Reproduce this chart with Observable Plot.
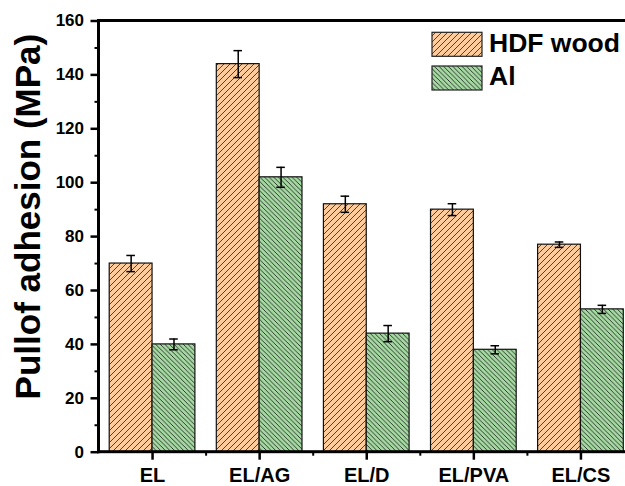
<!DOCTYPE html>
<html>
<head>
<meta charset="utf-8">
<script src="https://cdn.jsdelivr.net/npm/d3@7"></script>
<script src="https://cdn.jsdelivr.net/npm/@observablehq/plot@0.6"></script>
<style>
  html, body { margin: 0; padding: 0; background: #fff; }
  #chart { width: 625px; height: 486px; overflow: hidden; }
</style>
</head>
<body>
<div id="chart"></div>
<script>
// ---- data ----
const categories = ["EL", "EL/AG", "EL/D", "EL/PVA", "EL/CS"];
const seriesNames = ["HDF wood", "Al"];
const hdfValues = [70, 144, 92, 90, 77];
const hdfErrors = [3, 5, 3, 2.2, 1];
const alValues = [40, 102, 44, 38, 53];
const alErrors = [2, 3.7, 3, 1.5, 1.5];
const yMajorTicks = [0, 20, 40, 60, 80, 100, 120, 140, 160];
const yMinorTicks = [10, 30, 50, 70, 90, 110, 130, 150];
const yTitle = "Pullof adhesion (MPa)";

const seriesColors = ["#FDCB9C", "#A5D9A2"];
const patternIds = ["hatch-hdf", "hatch-al"];
const halfWidth = 0.4;

const rows = [];
categories.forEach((c, i) => {
  rows.push({cat: c, i, series: seriesNames[0], value: hdfValues[i], err: hdfErrors[i], x1: i - halfWidth, x2: i, xc: i - halfWidth / 2});
  rows.push({cat: c, i, series: seriesNames[1], value: alValues[i], err: alErrors[i], x1: i, x2: i + halfWidth, xc: i + halfWidth / 2});
});
const catIdx = categories.map((_, i) => i);
const xMinor = categories.map((_, i) => i + 0.5).slice(0, categories.length - 1);

const font = "'Liberation Sans', Arial, Helvetica, sans-serif";

const chart = Plot.plot({
  width: 625,
  height: 486,
  marginLeft: 98.5,
  marginRight: 0,
  marginTop: 20.5,
  marginBottom: 34.3,
  style: {fontFamily: font, color: "#000", background: "#fff", overflow: "hidden"},
  x: {type: "linear", domain: [-0.5, 4.416], axis: null},
  y: {domain: [0, 160], axis: null},
  marks: [
    Plot.rectY(rows.filter(d => d.series === seriesNames[0]), {x1: "x1", x2: "x2", y1: 0, y2: "value", fill: `url(#${patternIds[0]})`, stroke: "#111", strokeWidth: 1.2}),
    Plot.rectY(rows.filter(d => d.series === seriesNames[1]), {x1: "x1", x2: "x2", y1: 0, y2: "value", fill: `url(#${patternIds[1]})`, stroke: "#111", strokeWidth: 1.2}),
    // error bars
    Plot.ruleX(rows, {x: "xc", y1: d => d.value - d.err, y2: d => d.value + d.err, stroke: "#000", strokeWidth: 1.5}),
    Plot.ruleY(rows, {y: d => d.value + d.err, x1: d => d.xc - 0.04, x2: d => d.xc + 0.04, stroke: "#000", strokeWidth: 1.5}),
    Plot.ruleY(rows, {y: d => d.value - d.err, x1: d => d.xc - 0.04, x2: d => d.xc + 0.04, stroke: "#000", strokeWidth: 1.5}),
    // y axis labels
    Plot.axisY({ticks: yMajorTicks, tickSize: 8, tickPadding: 7, fontSize: 17, fontWeight: "bold", stroke: "#000", strokeWidth: 2.5, label: null, tickFormat: d => d}),
    Plot.axisY({ticks: yMinorTicks, tickSize: 4, text: null, stroke: "#000", strokeWidth: 2, label: null}),
    // x axis
    Plot.axisX({ticks: catIdx, tickSize: 8, tickPadding: 7.5, fontSize: 20, fontWeight: "bold", stroke: "#000", strokeWidth: 2.5, label: null, tickFormat: i => categories[i]}),
    Plot.axisX({ticks: xMinor, tickSize: 4, text: null, stroke: "#000", strokeWidth: 2, label: null}),
    // y title
    Plot.text([yTitle], {frameAnchor: "left", textAnchor: "middle", rotate: -90, dx: -70, dy: -20, fontSize: 35, fontWeight: "bold", fill: "#000"})
  ]
});

const svg = d3.select(chart);
const xs = chart.scale("x"), ys = chart.scale("y");

// patterns
const defs = svg.insert("defs", ":first-child");
const p1 = defs.append("pattern").attr("id", patternIds[0]).attr("patternUnits", "userSpaceOnUse").attr("width", 6).attr("height", 6);
p1.append("rect").attr("width", 6).attr("height", 6).attr("fill", seriesColors[0]);
p1.append("path").attr("d", "M0,6L6,0M-1,1L1,-1M5,7L7,5").attr("stroke", "#2a2a2a").attr("stroke-width", 0.85);
const p2 = defs.append("pattern").attr("id", patternIds[1]).attr("patternUnits", "userSpaceOnUse").attr("width", 4.6).attr("height", 4.6);
p2.append("rect").attr("width", 4.6).attr("height", 4.6).attr("fill", seriesColors[1]);
p2.append("path").attr("d", "M0,0L4.6,4.6M-1,3.6L1,5.6M3.6,-1L5.6,1").attr("stroke", "#1e1e1e").attr("stroke-width", 0.85);

// axis frame (left, top, bottom) as filled bands, placed through the plot's scales
const xl = xs.apply(xs.domain[0]), xr = 625;
const yb = ys.apply(0), yt = ys.apply(160);
const lw = 3;
const frame = svg.append("g").attr("fill", "#000").attr("stroke", "none");
frame.append("rect").attr("x", xl - lw / 2).attr("y", yt - lw / 2).attr("width", xr - xl + lw).attr("height", lw);
frame.append("rect").attr("x", xl - lw / 2).attr("y", yb - lw / 2).attr("width", xr - xl + lw).attr("height", lw);
frame.append("rect").attr("x", xl - lw / 2).attr("y", yt - lw / 2).attr("width", lw).attr("height", yb - yt + lw);

// legend
const legend = svg.append("g").attr("font-family", font).attr("text-anchor", "start");
seriesNames.forEach((name, k) => {
  const y0 = 32.3 + k * 33.7;
  legend.append("rect").attr("x", 432).attr("y", y0).attr("width", 50).attr("height", 24)
    .attr("fill", `url(#${patternIds[k]})`).attr("stroke", "#222").attr("stroke-width", 1.2);
  legend.append("text").attr("x", 489).attr("y", y0 + 19.4).attr("font-size", 26.5).attr("font-weight", "bold")
    .attr("fill", "#000").attr("text-anchor", "start").text(name);
});

document.getElementById("chart").appendChild(chart);
</script>
</body>
</html>
